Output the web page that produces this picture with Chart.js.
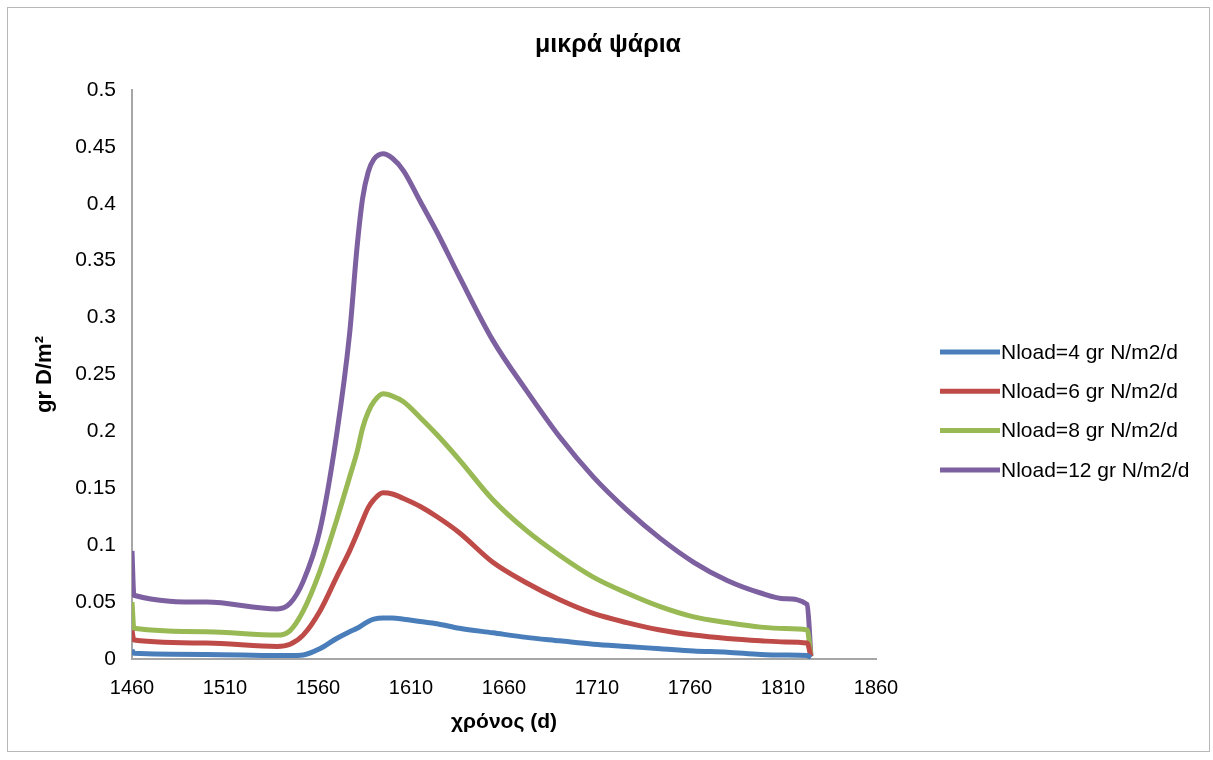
<!DOCTYPE html>
<html>
<head>
<meta charset="utf-8">
<title>μικρά ψάρια</title>
<script src="https://cdn.jsdelivr.net/npm/chart.js@4.4.1/dist/chart.umd.min.js"></script>
<style>
  html, body { margin: 0; padding: 0; background: #fff; }
  #wrap { position: relative; width: 1213px; height: 760px; }
  #frame { position: absolute; left: 7px; top: 7px; width: 1201px; height: 743px; border: 1px solid #b8b8b8; pointer-events: none; }
  canvas { position: absolute; left: 0; top: 0; }
</style>
</head>
<body>
<div id="wrap">
  <canvas id="chart" width="1213" height="760"></canvas>
  <div id="frame"></div>
</div>
<script>
// Data (day, grams D per m2)
const days = [1460, 1461, 1500, 1538, 1545, 1552, 1561, 1570, 1577, 1581, 1584, 1587, 1590, 1595, 1600, 1606, 1615, 1624, 1636, 1654, 1672, 1690, 1708, 1726, 1744, 1762, 1780, 1798, 1811, 1823, 1825];

const nload4 = [0.008, 0.005, 0.004, 0.003, 0.003, 0.0035, 0.009, 0.018, 0.024, 0.027, 0.030, 0.033, 0.035, 0.036, 0.036, 0.035, 0.033, 0.031, 0.027, 0.023, 0.019, 0.016, 0.013, 0.011, 0.009, 0.007, 0.006, 0.004, 0.0035, 0.003, 0.001];
const nload6 = [0.025, 0.0167, 0.014, 0.011, 0.013, 0.021, 0.042, 0.072, 0.095, 0.110, 0.122, 0.133, 0.140, 0.146, 0.145, 0.141, 0.134, 0.125, 0.111, 0.085, 0.067, 0.052, 0.040, 0.032, 0.0255, 0.021, 0.018, 0.016, 0.015, 0.014, 0.002];
const nload8 = [0.05, 0.027, 0.024, 0.021, 0.025, 0.042, 0.077, 0.122, 0.160, 0.182, 0.203, 0.217, 0.226, 0.233, 0.231, 0.226, 0.212, 0.197, 0.175, 0.140, 0.113, 0.091, 0.072, 0.058, 0.046, 0.037, 0.032, 0.028, 0.0268, 0.0255, 0.003];
const nload12 = [0.095, 0.056, 0.050, 0.044, 0.049, 0.068, 0.113, 0.197, 0.286, 0.362, 0.405, 0.428, 0.439, 0.444, 0.440, 0.429, 0.402, 0.375, 0.336, 0.280, 0.236, 0.195, 0.160, 0.131, 0.106, 0.085, 0.069, 0.058, 0.053, 0.048, 0.003];

const seriesLabels = ['Nload=4 gr N/m2/d', 'Nload=6 gr N/m2/d', 'Nload=8 gr N/m2/d', 'Nload=12 gr N/m2/d'];
const seriesColors = ['#4A7EBB', '#BE4B48', '#98B954', '#7D60A0'];
const seriesValues = [nload4, nload6, nload8, nload12];

const chartTitle = 'μικρά ψάρια';
const xTitle = 'χρόνος (d)';
const yTitle = 'gr D/m²';

const FONT = '"Liberation Sans", Arial, sans-serif';

function toPoints(values) {
  return values.map((v, i) => ({ x: days[i], y: v }));
}

// title + legend drawn on the canvas so the plot area can sit where Excel put it
const decor = {
  id: 'decor',
  afterDraw(chart) {
    const ctx = chart.ctx;
    ctx.save();
    ctx.fillStyle = '#000';
    ctx.font = 'bold 25px ' + FONT;
    ctx.textAlign = 'center';
    ctx.textBaseline = 'middle';
    ctx.fillText(chartTitle, 608, 45);

    ctx.font = '21px ' + FONT;
    ctx.textAlign = 'left';
    chart.data.datasets.forEach((ds, i) => {
      const y = 352 + i * 39.3;
      ctx.strokeStyle = ds.borderColor;
      ctx.lineWidth = 5;
      ctx.beginPath();
      ctx.moveTo(940, y);
      ctx.lineTo(1000, y);
      ctx.stroke();
      ctx.fillStyle = '#000';
      ctx.fillText(ds.label, 1001, y + 1);
    });
    ctx.restore();
  }
};

new Chart(document.getElementById('chart'), {
  type: 'line',
  data: {
    datasets: seriesValues.map((vals, i) => ({
      label: seriesLabels[i],
      data: toPoints(vals),
      borderColor: seriesColors[i],
      backgroundColor: seriesColors[i],
      borderWidth: 5,
      pointRadius: 0,
      cubicInterpolationMode: 'monotone',
      fill: false
    }))
  },
  options: {
    responsive: false,
    animation: false,
    layout: { padding: { left: 10, right: 337, top: 90, bottom: 19 } },
    plugins: {
      legend: { display: false },
      title: { display: false },
      tooltip: { enabled: false }
    },
    scales: {
      x: {
        type: 'linear',
        min: 1460,
        max: 1860,
        grid: { display: false, drawTicks: false },
        border: { display: true, color: '#a6a6a6', width: 2 },
        ticks: {
          stepSize: 50,
          padding: 19,
          color: '#000',
          font: { family: FONT, size: 20, lineHeight: 1 },
          callback: v => String(v)
        },
        title: {
          display: true,
          text: xTitle,
          color: '#000',
          font: { family: FONT, size: 21, weight: 'bold' },
          padding: { top: 0, bottom: 6 }
        },
        afterFit(scale) { scale.height = 82; }
      },
      y: {
        min: 0,
        max: 0.5,
        grid: { display: false, drawTicks: false },
        border: { display: true, color: '#a6a6a6', width: 2 },
        ticks: {
          stepSize: 0.05,
          padding: 16,
          color: '#000',
          font: { family: FONT, size: 21 },
          callback: v => String(+v.toFixed(2))
        },
        title: {
          display: true,
          text: yTitle,
          color: '#000',
          font: { family: FONT, size: 22, weight: 'bold' },
          padding: { top: 22, bottom: 0 }
        },
        afterFit(scale) { scale.width = 122; }
      }
    }
  },
  plugins: [decor]
});
</script>
</body>
</html>
